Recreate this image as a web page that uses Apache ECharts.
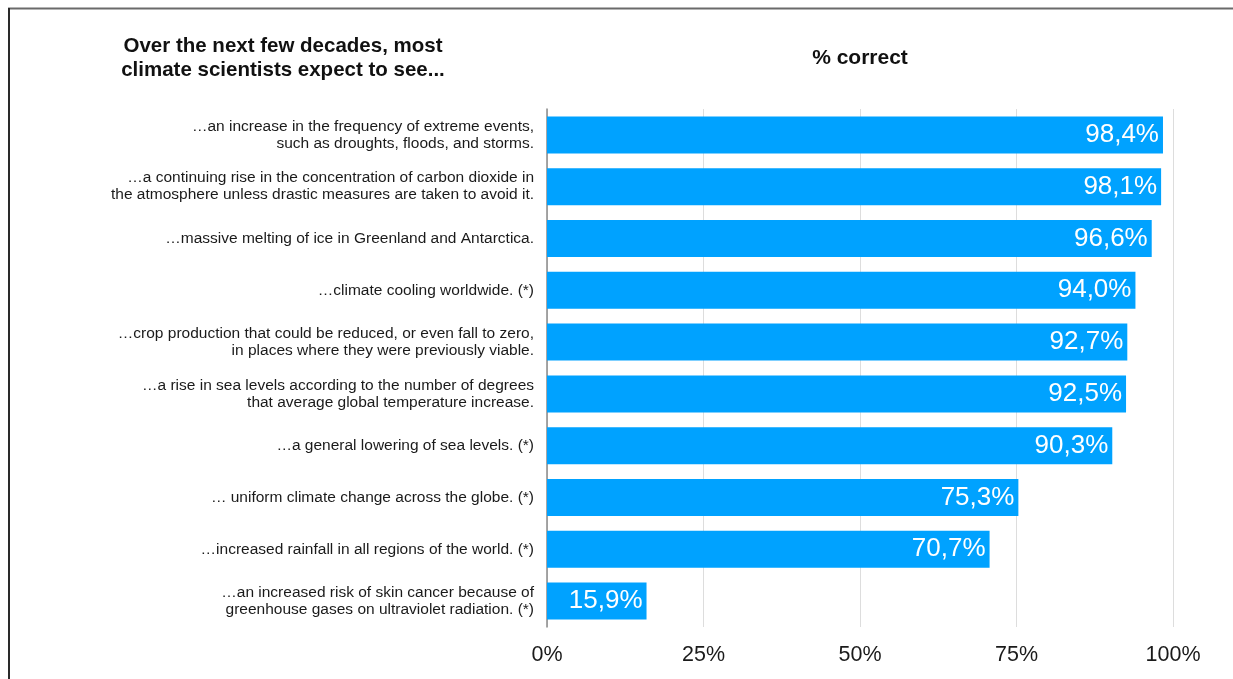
<!DOCTYPE html>
<html>
<head>
<meta charset="utf-8">
<style>
  html, body { margin: 0; padding: 0; background: #ffffff; }
  #chart { width: 1233px; height: 679px; }
</style>
<script src="https://cdn.jsdelivr.net/npm/echarts@6/dist/echarts.min.js"></script>
</head>
<body>
<div id="chart"></div>
<script>
// Statements about the next few decades, top to bottom
const statements = [
  '…an increase in the frequency of extreme events,\nsuch as droughts, floods, and storms.',
  '…a continuing rise in the concentration of carbon dioxide in\nthe atmosphere unless drastic measures are taken to avoid it.',
  '…massive melting of ice in Greenland and Antarctica.',
  '…climate cooling worldwide. (*)',
  '…crop production that could be reduced, or even fall to zero,\nin places where they were previously viable.',
  '…a rise in sea levels according to the number of degrees\nthat average global temperature increase.',
  '…a general lowering of sea levels. (*)',
  '… uniform climate change across the globe. (*)',
  '…increased rainfall in all regions of the world. (*)',
  '…an increased risk of skin cancer because of\ngreenhouse gases on ultraviolet radiation. (*)'
];

// Share of correct answers, in percent
const pctCorrect = [98.4, 98.1, 96.6, 94.0, 92.7, 92.5, 90.3, 75.3, 70.7, 15.9];

// Axis ticks
const tickValues = [0, 25, 50, 75, 100];

const leftTitle = 'Over the next few decades, most\nclimate scientists expect to see...';
const rightTitle = '% correct';

const chart = echarts.init(document.getElementById('chart'), null, { renderer: 'canvas' });

const FONT = '"Liberation Sans", Arial, Helvetica, sans-serif';

chart.setOption({
  backgroundColor: '#ffffff',
  animation: false,
  textStyle: { fontFamily: FONT },
  title: [
    {
      text: leftTitle,
      left: 278,
      top: 29,
      textAlign: 'center',
      textStyle: { fontFamily: FONT, fontSize: 20.5, fontWeight: 'bold', color: '#111', lineHeight: 24, align: 'center' }
    },
    {
      text: rightTitle,
      left: 855,
      top: 43,
      textAlign: 'center',
      textStyle: { fontFamily: FONT, fontSize: 21, fontWeight: 'bold', color: '#111' }
    }
  ],
  graphic: [
    { type: 'line', shape: { x1: 8, y1: 8.5, x2: 1233, y2: 8.5 }, style: { stroke: '#6a6a6a', lineWidth: 2 } },
    { type: 'line', shape: { x1: 9, y1: 8, x2: 9, y2: 679 }, style: { stroke: '#2a2a2a', lineWidth: 2 } }
  ],
  grid: { left: 547, right: 60, top: 109, bottom: 52, containLabel: false },
  xAxis: {
    type: 'value',
    min: 0,
    max: 100,
    interval: 25,
    axisLine: { show: false },
    axisTick: { show: false },
    splitLine: { show: true, lineStyle: { color: '#dddddd', width: 1 } },
    axisLabel: {
      margin: 17,
      fontFamily: FONT,
      fontSize: 21.5,
      color: '#1a1a1a',
      formatter: v => tickValues.includes(v) ? v + '%' : ''
    }
  },
  yAxis: {
    type: 'category',
    inverse: true,
    data: statements,
    axisLine: { show: true, lineStyle: { color: '#8a8a8a', width: 1.5 } },
    axisTick: { show: false },
    axisLabel: {
      margin: 13,
      fontFamily: FONT,
      fontSize: 15.5,
      lineHeight: 17,
      color: '#1a1a1a',
      align: 'right',
      padding: [3, 0, 0, 0]
    }
  },
  series: [{
    type: 'bar',
    data: pctCorrect,
    barWidth: 37,
    itemStyle: { color: '#00A2FF' },
    label: {
      show: true,
      position: 'insideRight',
      distance: 4,
      fontFamily: FONT,
      fontSize: 26,
      color: '#ffffff',
      formatter: p => p.value.toFixed(1).replace('.', ',') + '%'
    }
  }]
});
</script>
</body>
</html>
